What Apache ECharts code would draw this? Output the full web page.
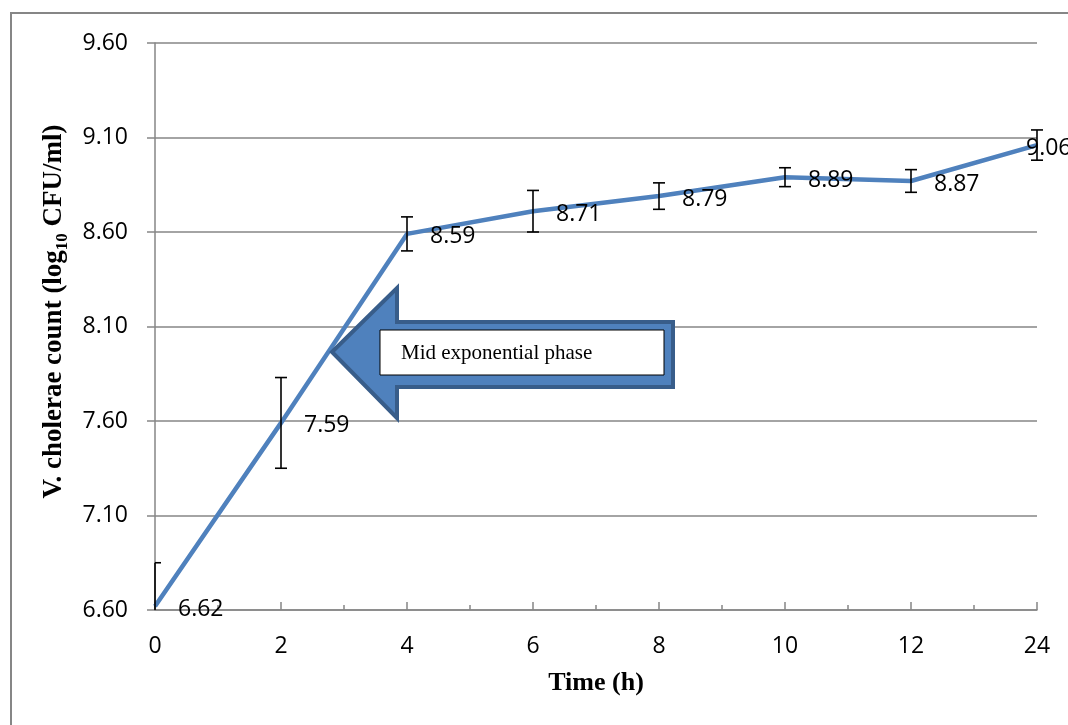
<!DOCTYPE html>
<html>
<head>
<meta charset="utf-8">
<script src="https://cdn.jsdelivr.net/npm/echarts@6/dist/echarts.min.js"></script>
<style>
  html, body { margin: 0; padding: 0; background: #fff; }
  #chart { width: 1068px; height: 725px; }
</style>
</head>
<body>
<div id="chart"></div>
<script>
// time points (h) and mean counts
var timeLabels = ['0', '2', '4', '6', '8', '10', '12', '24'];
var meanCounts = [6.62, 7.59, 8.59, 8.71, 8.79, 8.89, 8.87, 9.06];
// error bar half-lengths
var errors = [0.23, 0.24, 0.09, 0.11, 0.07, 0.05, 0.06, 0.08];
var yTicks = [6.60, 7.10, 7.60, 8.10, 8.60, 9.10, 9.60];

var chart = echarts.init(document.getElementById('chart'));

var lineData = meanCounts.map(function (v, i) {
  if (i === meanCounts.length - 1) {
    // last label sits on top of the point, as in the original
    return { value: [i, v], label: { distance: -12 } };
  }
  return [i, v];
});
var errData = meanCounts.map(function (v, i) {
  return [i, v - errors[i], v + errors[i]];
});

var gray = '#868686';
var tickFont = { fontFamily: 'Open Sans', fontSize: 23, color: '#000' };

var option = {
  animation: false,
  grid: { left: 155, right: 31, top: 43, bottom: 115 },
  xAxis: {
    type: 'value',
    min: 0,
    max: timeLabels.length - 1,
    interval: 1,
    name: 'Time (h)',
    nameLocation: 'middle',
    nameGap: 60,
    nameTextStyle: { fontFamily: 'Liberation Serif', fontWeight: 'bold', fontSize: 26, color: '#000' },
    axisLine: { lineStyle: { color: gray, width: 1.5 } },
    axisTick: { inside: true, length: 8, lineStyle: { color: gray, width: 1.5 } },
    minorTick: { show: true, splitNumber: 2, length: 5, lineStyle: { color: gray, width: 1.5 } },
    axisLabel: Object.assign({ margin: 25, formatter: function (v) { return timeLabels[v]; } }, tickFont),
    splitLine: { show: false }
  },
  yAxis: {
    type: 'value',
    min: yTicks[0],
    max: yTicks[yTicks.length - 1],
    interval: 0.5,
    name: 'V. cholerae count (log{sub|10} CFU/ml)',
    nameLocation: 'middle',
    nameGap: 75,
    nameTextStyle: {
      fontFamily: 'Liberation Serif', fontWeight: 'bold', fontSize: 27, color: '#000',
      padding: [0, 0, 0, 30],
      rich: {
        sub: { fontFamily: 'Liberation Serif', fontWeight: 'bold', fontSize: 17, color: '#000', verticalAlign: 'bottom', lineHeight: 14, padding: [0, 0, -4, 0] }
      }
    },
    axisLine: { show: true, lineStyle: { color: gray, width: 1.5 } },
    axisTick: { show: true, length: 8, lineStyle: { color: gray, width: 1.5 } },
    axisLabel: Object.assign({ margin: 27, formatter: function (v) { return v.toFixed(2); } }, tickFont),
    splitLine: { show: true, lineStyle: { color: gray, width: 1.5 } }
  },
  series: [
    {
      type: 'line',
      data: lineData,
      showSymbol: true,
      symbol: 'circle',
      symbolSize: 2,
      lineStyle: { color: '#4F81BD', width: 4.5 },
      itemStyle: { color: '#4F81BD' },
      label: {
        show: true,
        position: 'right',
        distance: 22,
        offset: [0, 3],
        fontFamily: 'Open Sans',
        fontSize: 23,
        color: '#000',
        formatter: function (p) { return p.value[1].toFixed(2); }
      },
      z: 3
    },
    {
      type: 'custom',
      clip: false,
      data: errData,
      renderItem: function (params, api) {
        var cs = params.coordSys;
        var bottom = cs.y + cs.height;
        var x = api.coord([api.value(0), api.value(1)])[0];
        var lo = api.coord([api.value(0), api.value(1)])[1];
        var hi = api.coord([api.value(0), api.value(2)])[1];
        var w = 6;
        var st = { stroke: '#000', lineWidth: 1.6 };
        var left = Math.max(x - w, cs.x);
        var kids = [
          { type: 'line', shape: { x1: x, y1: Math.min(lo, bottom), x2: x, y2: hi }, style: st },
          { type: 'line', shape: { x1: left, y1: hi, x2: x + w, y2: hi }, style: st }
        ];
        if (lo <= bottom) {
          kids.push({ type: 'line', shape: { x1: left, y1: lo, x2: x + w, y2: lo }, style: st });
        }
        return { type: 'group', children: kids };
      },
      z: 4
    }
  ],
  graphic: [
    {
      type: 'rect',
      shape: { x: 11, y: 13, width: 1100, height: 760 },
      style: { fill: 'none', stroke: gray, lineWidth: 2 },
      silent: true,
      z: 0
    },
    {
      type: 'polygon',
      shape: {
        points: [[332, 352], [397, 288], [397, 322], [673, 322], [673, 387], [397, 387], [397, 418]]
      },
      style: { fill: '#4F81BD', stroke: '#385D8A', lineWidth: 4, lineJoin: 'miter' },
      z: 10
    },
    {
      type: 'rect',
      shape: { x: 380, y: 330, width: 284, height: 45 },
      style: { fill: '#fff', stroke: '#000', lineWidth: 1 },
      z: 11
    },
    {
      type: 'text',
      x: 401,
      y: 353,
      style: {
        text: 'Mid exponential phase',
        fontFamily: 'Liberation Serif',
        fontSize: 21,
        fill: '#000',
        verticalAlign: 'middle'
      },
      z: 12
    }
  ]
};

chart.setOption(option);
</script>
</body>
</html>
